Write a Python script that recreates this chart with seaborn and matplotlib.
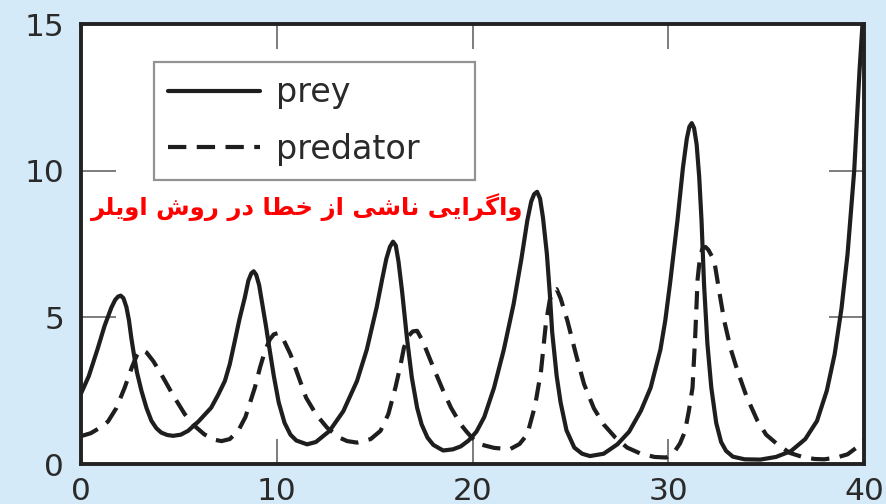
import numpy as np
import pandas as pd
import matplotlib
matplotlib.use("Agg")
import matplotlib.pyplot as plt
import seaborn as sns

# ---------------- data ----------------
prey_t = [0.0, 0.4, 0.87, 1.2, 1.55, 1.75, 1.9, 2.03, 2.17, 2.32, 2.45, 2.57, 2.7, 2.85,
          3.09, 3.35, 3.6, 3.85, 4.1, 4.4, 4.7, 5.1, 5.47, 6.0, 6.65, 7.0, 7.35, 7.6, 7.86,
          8.1, 8.37, 8.55, 8.7, 8.82, 8.95, 9.1, 9.3, 9.45, 9.6, 9.85, 10.1, 10.4, 10.7,
          11.0, 11.55, 12.0, 12.7, 13.4, 14.1, 14.6, 15.1, 15.4, 15.6, 15.78, 15.94, 16.08,
          16.22, 16.4, 16.65, 16.9, 17.17, 17.4, 17.7, 18.0, 18.5, 19.0, 19.4, 19.8, 20.2,
          20.6, 21.1, 21.6, 22.1, 22.5, 22.8, 23.0, 23.15, 23.3, 23.45, 23.6, 23.8, 23.95,
          24.07, 24.3, 24.5, 24.8, 25.2, 25.6, 26.0, 26.7, 27.4, 28.0, 28.6, 29.1, 29.6,
          29.85, 30.1, 30.47, 30.75, 30.95, 31.08, 31.2, 31.32, 31.45, 31.58, 31.7, 31.83,
          32.0, 32.2, 32.45, 32.7, 32.95, 33.3, 33.9, 34.7, 35.5, 36.27, 37.0, 37.6, 38.1,
          38.5, 38.85, 39.16, 39.5, 39.77, 40.0]
prey_y = [2.4, 3.0, 3.97, 4.7, 5.33, 5.6, 5.71, 5.74, 5.65, 5.35, 4.9, 4.3, 3.75, 3.15,
          2.49, 1.9, 1.47, 1.22, 1.07, 0.99, 0.96, 1.0, 1.13, 1.45, 1.92, 2.35, 2.83, 3.4, 4.2,
          4.95, 5.68, 6.25, 6.5, 6.57, 6.45, 6.1, 5.3, 4.7, 4.05, 3.0, 2.1, 1.4, 1.0,
          0.8, 0.67, 0.75, 1.13, 1.8, 2.83, 3.9, 5.33, 6.35, 7.0, 7.4, 7.58, 7.45,
          6.9, 5.9, 4.3, 2.95, 1.92, 1.35, 0.9, 0.65, 0.46, 0.5, 0.6, 0.8, 1.1,
          1.6, 2.6, 3.9, 5.45, 7.0, 8.3, 8.95, 9.2, 9.28, 9.05, 8.4, 7.16, 5.8,
          4.5, 3.0, 2.1, 1.15, 0.56, 0.35, 0.27, 0.35, 0.67, 1.1, 1.81, 2.6, 3.9,
          4.9, 6.2, 8.3, 10.1, 11.1, 11.5, 11.62, 11.45, 10.9, 9.8, 8.3, 6.1,
          4.1, 2.6, 1.4, 0.75, 0.45, 0.25, 0.16, 0.15, 0.24, 0.44, 0.85, 1.47, 2.5,
          3.74, 5.3, 7.16, 10.0, 13.4, 15.8]

pred_t = [0.0, 0.5, 1.0, 1.38, 1.8, 2.23, 2.6, 2.85, 3.0, 3.15, 3.35, 3.7, 4.1, 4.7, 5.3,
          5.8, 6.3, 6.8, 7.18, 7.6, 8.03, 8.4, 8.88, 9.15, 9.4, 9.65, 9.85, 10.05, 10.3,
          10.7, 11.1, 11.5, 12.0, 12.57, 13.2, 13.6, 14.1, 14.8, 15.3, 15.7, 16.06, 16.3,
          16.5, 16.75, 16.95, 17.17, 17.45, 18.0, 18.5, 18.9, 19.4, 19.7, 20.1, 20.4, 21.1,
          21.9, 22.4, 22.8, 23.2, 23.5, 23.75, 23.95, 24.12, 24.3, 24.5, 24.85, 25.3, 25.7,
          26.2, 26.7, 27.3, 27.9, 28.6, 29.3, 29.9, 30.3, 30.6, 30.85, 31.05, 31.24, 31.38,
          31.5, 31.62, 31.75, 31.9, 32.05, 32.35, 32.6, 32.86, 33.2, 33.54, 34.0, 34.56,
          35.0, 35.58, 36.2, 36.95, 37.5, 37.97, 38.6, 39.16, 39.6, 40.0]
pred_y = [0.95, 1.05, 1.25, 1.45, 1.9, 2.6, 3.3, 3.7, 3.85, 3.88, 3.8, 3.5, 3.06, 2.35, 1.7,
          1.3, 1.01, 0.83, 0.78, 0.85, 1.13, 1.6, 2.6, 3.3, 3.86, 4.25, 4.42, 4.46, 4.3,
          3.74, 3.0, 2.26, 1.7, 1.24, 0.9, 0.78, 0.73, 0.85, 1.13, 1.7, 2.6, 3.3,
          3.97, 4.38, 4.52, 4.54, 4.2, 3.29, 2.5, 1.92, 1.35, 1.1, 0.8, 0.67, 0.55,
          0.5, 0.68, 1.01, 2.0, 3.17, 4.8, 5.6, 5.9, 5.96, 5.65, 4.88, 3.7, 2.72,
          1.9, 1.35, 0.9, 0.56, 0.35, 0.24, 0.22, 0.4, 0.7, 1.1, 1.8, 2.6, 4.4,
          6.3, 7.05, 7.35, 7.4, 7.3, 6.93, 5.9, 4.88, 3.9, 3.17, 2.3, 1.47,
          1.0, 0.67, 0.38, 0.22, 0.17, 0.16, 0.22, 0.33, 0.55, 0.8]

x_ticks = [0, 10, 20, 30, 40]
y_ticks = [0, 5, 10, 15]
series_labels = ["prey", "predator"]
note_text = "واگرایی ناشی از خطا در روش اویلر"

# ---------------- simple Persian shaping (contextual forms + RTL order) ----------------
FORMS = {
    'ا': ('\uFE8D', '\uFE8E', None, None),
    'و': ('\uFEED', '\uFEEE', None, None),
    'ر': ('\uFEAD', '\uFEAE', None, None),
    'ز': ('\uFEAF', '\uFEB0', None, None),
    'د': ('\uFEA9', '\uFEAA', None, None),
    'گ': ('\uFB92', '\uFB93', '\uFB94', '\uFB95'),
    'ی': ('\uFBFC', '\uFBFD', '\uFBFE', '\uFBFF'),
    'ن': ('\uFEE5', '\uFEE6', '\uFEE7', '\uFEE8'),
    'ش': ('\uFEB5', '\uFEB6', '\uFEB7', '\uFEB8'),
    'خ': ('\uFEA5', '\uFEA6', '\uFEA7', '\uFEA8'),
    'ط': ('\uFEC1', '\uFEC2', '\uFEC3', '\uFEC4'),
    'ل': ('\uFEDD', '\uFEDE', '\uFEDF', '\uFEE0'),
}


def shape(s):
    out = []
    n = len(s)
    for i, c in enumerate(s):
        if c not in FORMS:
            out.append(c)
            continue
        iso, fin, ini, med = FORMS[c]
        prev = s[i - 1] if i > 0 else None
        nxt = s[i + 1] if i < n - 1 else None
        pj = prev in FORMS and FORMS[prev][2] is not None
        nj = ini is not None and nxt in FORMS
        if pj and nj:
            out.append(med)
        elif pj:
            out.append(fin)
        elif nj:
            out.append(ini)
        else:
            out.append(iso)
    return ''.join(out)[::-1]


# ---------------- figure ----------------
sns.set_theme(style="white")
plt.rcParams['font.family'] = ['DejaVu Sans']

bg = '#d5eaf8'
fig = plt.figure(figsize=(8.87, 5.04), dpi=100, facecolor=bg)
ax = fig.add_axes([81 / 887, 1 - 464 / 504, (864 - 81) / 887, (464 - 24) / 504])
ax.set_facecolor('white')

sns.lineplot(x=prey_t, y=prey_y, ax=ax, color='#1e1e1e', linewidth=3.0,
             label=series_labels[0], solid_joinstyle='round')
sns.lineplot(x=pred_t, y=pred_y, ax=ax, color='#1e1e1e', linewidth=3.0,
             label=series_labels[1], linestyle=(0, (4.4, 2.5)), dash_joinstyle='round')

ax.set_xlim(0, 40)
ax.set_ylim(0, 15)
ax.set_xticks(x_ticks)
ax.set_yticks(y_ticks)
ax.set_xlabel('')
ax.set_ylabel('')

ax.tick_params(axis='x', which='both', direction='in', length=18, width=1.2,
               color='#666666', top=True, bottom=True, labelsize=22.5,
               labelcolor='#2a2a2a', pad=9)
ax.tick_params(axis='y', which='both', direction='in', length=25, width=1.2,
               color='#666666', left=True, right=True, labelsize=22.5,
               labelcolor='#2a2a2a', pad=12)

for sp in ax.spines.values():
    sp.set_visible(True)
    sp.set_color('#222222')
    sp.set_linewidth(2.8)

leg = ax.legend(loc='upper left', bbox_to_anchor=(0.093, 0.5, 0.41, 0.414), mode='expand',
                fontsize=24, frameon=True, fancybox=False, handlelength=2.75,
                handletextpad=0.5, labelspacing=0.7, borderpad=0.43, borderaxespad=0)
leg.get_frame().set_edgecolor('#777777')
leg.get_frame().set_linewidth(1.6)
for t in leg.get_texts():
    t.set_color('#2a2a2a')

ax.text(0.5645, 0.583, shape(note_text), transform=ax.transAxes, ha='right', va='center',
        color='#ff0000', fontsize=17.6, fontweight='bold', family=['DejaVu Sans'])

fig.savefig('out.png', dpi=100, facecolor=bg)
